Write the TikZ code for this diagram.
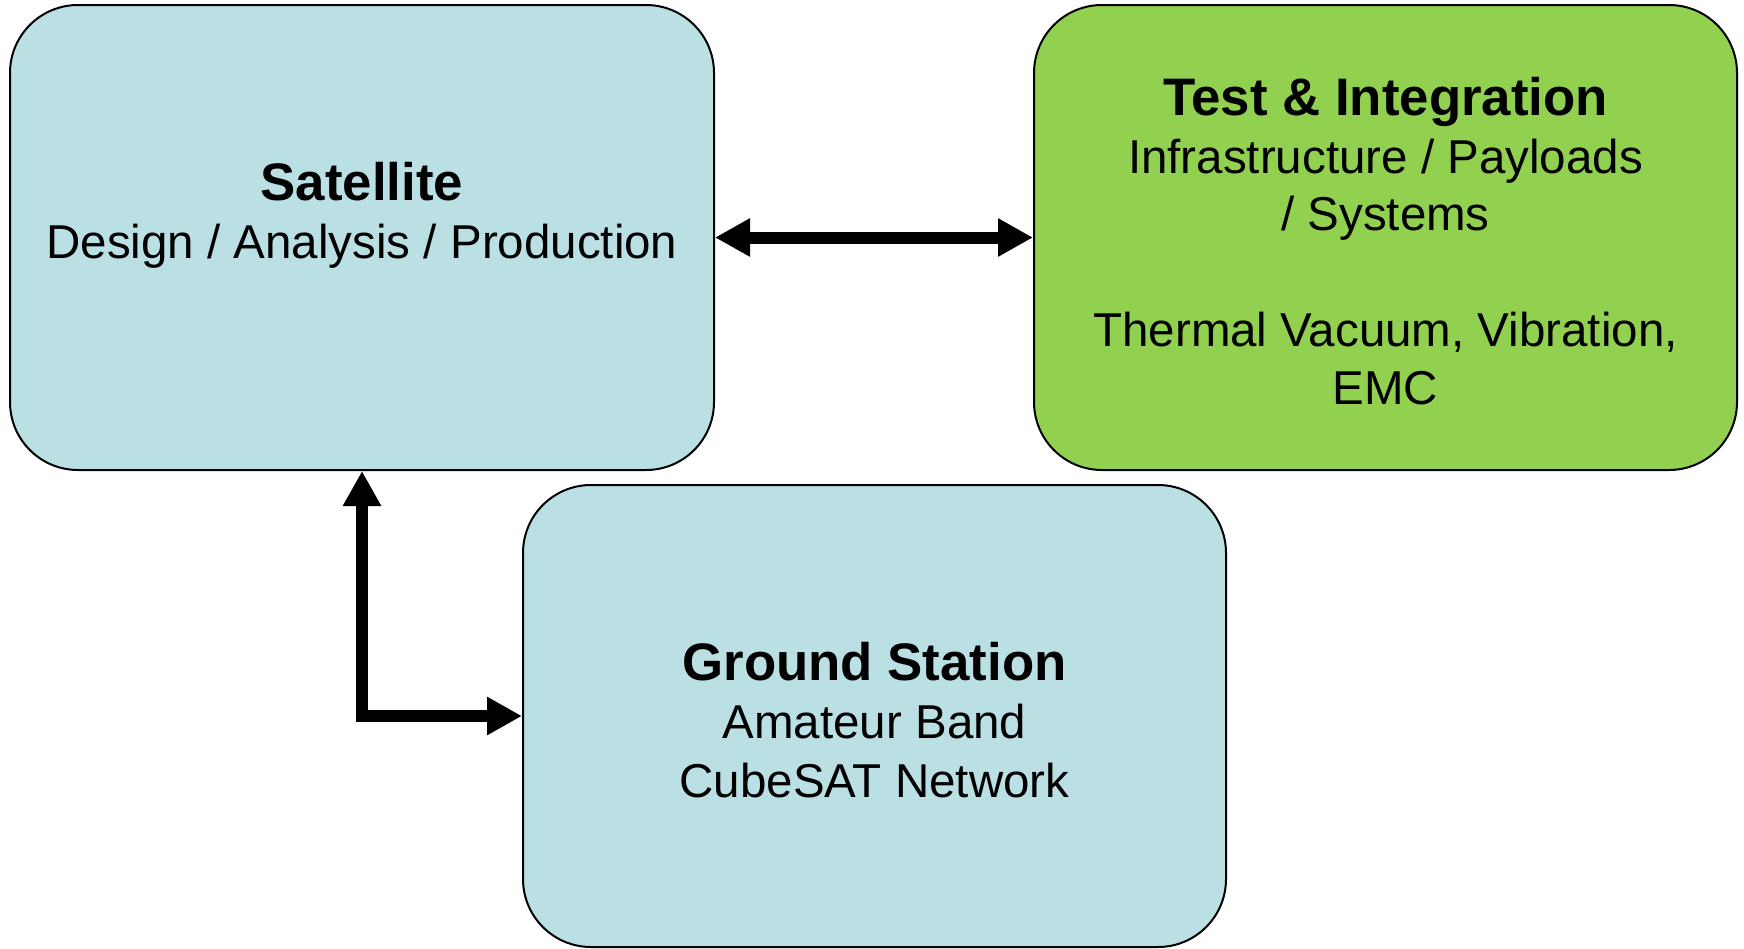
\documentclass[tikz,border=0pt]{standalone}
\usepackage{fontspec}
\setmainfont{Liberation Sans}
\usetikzlibrary{arrows.meta}

\definecolor{boxblue}{HTML}{BAE0E4}
\definecolor{boxgreen}{HTML}{92D050}

\tikzset{
  panel/.style={draw=black, line width=2pt, rectangle, rounded corners=68pt,
    inner sep=0pt, minimum height=465pt},
  head/.style={anchor=base, inner sep=0pt, font=\fontsize{52.8}{60}\selectfont\bfseries},
  body/.style={anchor=base, inner sep=0pt, font=\fontsize{47.5}{57}\selectfont},
  link/.style={line width=12pt, line join=miter,
    {Triangle[length=35pt,width=36pt]}-{Triangle[length=35pt,width=36pt]}}
}

\begin{document}
\begin{tikzpicture}[x=1pt, y=-1pt]
  \useasboundingbox (0,0) rectangle (1744,948);

  % three blocks
  \node[panel, fill=boxblue, minimum width=704pt] (sat) at (362,237.5) {};
  \node[panel, fill=boxgreen, minimum width=703pt] (tst) at (1385.5,237.5) {};
  \node[panel, fill=boxblue, minimum width=703pt, minimum height=462pt] (gnd) at (874.5,716) {};

  % block texts
  \node[head] (satA) at (362,200) {Satellite};
  \node[body] (satB) at (362,258) {Design / Analysis / Production};

  \node[head] (tstA) at (1385.5,115) {Test \& Integration};
  \node[body] (tstB) at (1385.5,173) {Infrastructure / Payloads};
  \node[body] (tstC) at (1385.5,230) {/ Systems};
  \node[body] (tstD) at (1385.5,346) {Thermal Vacuum, Vibration,};
  \node[body] (tstE) at (1385.5,404) {EMC};

  \node[head] (gndA) at (874.5,680) {Ground Station};
  \node[body] (gndB) at (874.5,738) {Amateur Band};
  \node[body] (gndC) at (874.5,797) {CubeSAT Network};

  % links between blocks
  \draw[link] (sat.east) -- (tst.west);
  \draw[link] (sat.south) |- (gnd.west);
\end{tikzpicture}
\end{document}
